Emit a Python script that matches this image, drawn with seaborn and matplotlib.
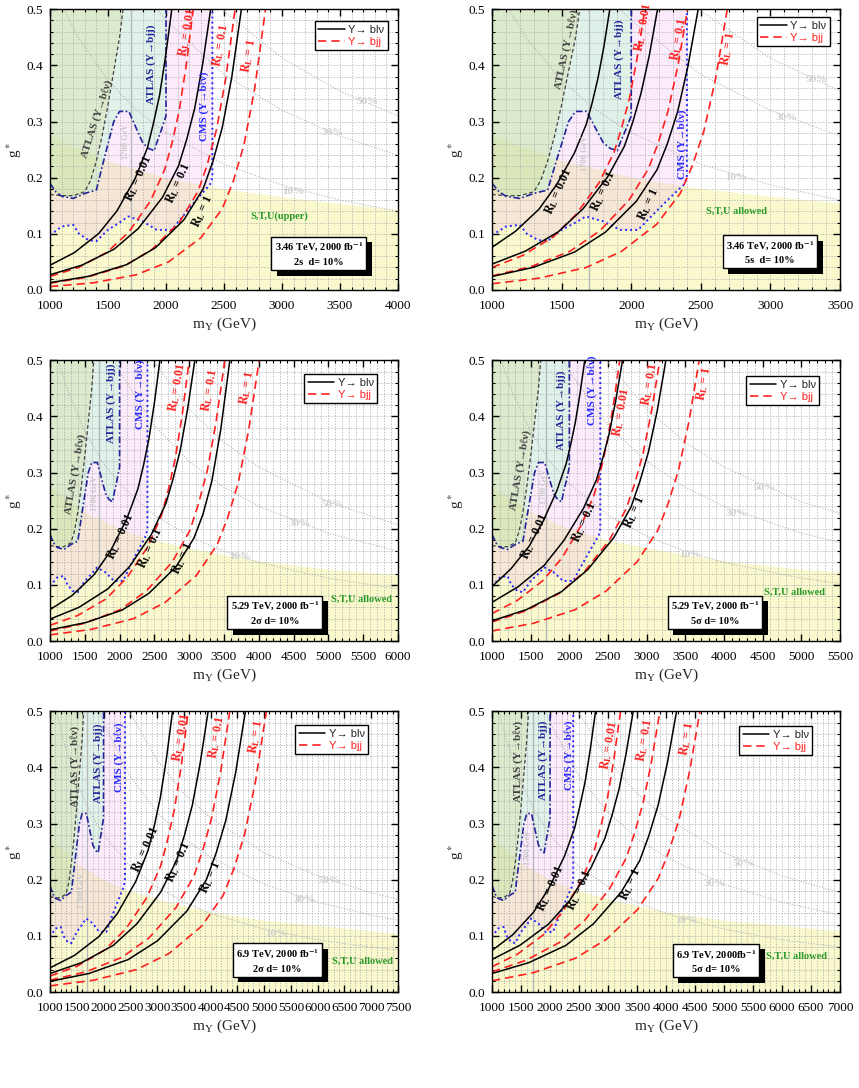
import matplotlib
matplotlib.use('Agg')
import numpy as np
import pandas as pd
import seaborn as sns
import matplotlib.pyplot as plt
from matplotlib import patheffects
from matplotlib.lines import Line2D
from matplotlib.ticker import MultipleLocator, FormatStrFormatter

# ---- curves shared by all panels (m in GeV, g*) ----
ATLAS_BLV_M = [1000, 1100, 1200, 1300, 1350, 1400, 1450, 1500, 1550, 1600, 1630]
ATLAS_BLV_G = [0.170, 0.168, 0.168, 0.175, 0.195, 0.230, 0.275, 0.330, 0.390, 0.450, 0.500]

ATLAS_BJJ_M = [1000, 1050, 1100, 1200, 1300, 1400, 1450, 1500, 1550, 1600, 1680, 1750, 1800,
               1850, 1900, 1920, 1960, 2000, 2000]
ATLAS_BJJ_G = [0.190, 0.175, 0.167, 0.163, 0.172, 0.178, 0.220, 0.260, 0.300, 0.318, 0.318,
               0.285, 0.262, 0.252, 0.248, 0.262, 0.285, 0.310, 0.500]

CMS_BLV_M = [1000, 1050, 1100, 1200, 1250, 1330, 1400, 1500, 1600, 1675, 1800, 1920, 2050,
             2120, 2200, 2290, 2380, 2400, 2400]
CMS_BLV_G = [0.098, 0.105, 0.113, 0.116, 0.100, 0.089, 0.087, 0.107, 0.120, 0.131, 0.122,
             0.107, 0.107, 0.125, 0.145, 0.167, 0.188, 0.200, 0.500]

STU_M = [1000, 1500, 2000, 2500, 3000, 3500, 4000, 4500, 5000, 5500, 6000, 6500, 7000, 7500]
STU_G = [0.275, 0.230, 0.200, 0.180, 0.166, 0.154, 0.143, 0.135, 0.128, 0.123, 0.119,
         0.114, 0.109, 0.104]

W10_M = [1120, 1250, 1500, 1750, 2000, 2500, 3000, 3500, 4000, 5000, 6000, 7000, 7500]
W10_G = [0.500, 0.448, 0.373, 0.320, 0.280, 0.224, 0.187, 0.160, 0.140, 0.112, 0.093, 0.080, 0.075]
W30_M = [1920, 2000, 2500, 3000, 3500, 4000, 5000, 6000, 7000, 7500]
W30_G = [0.500, 0.480, 0.384, 0.320, 0.274, 0.240, 0.192, 0.160, 0.137, 0.128]
W50_M = [2480, 3000, 3500, 4000, 5000, 6000, 7000, 7500]
W50_G = [0.500, 0.413, 0.354, 0.310, 0.248, 0.207, 0.177, 0.165]

RL_VALUES = ['0.01', '0.1', '1']

# ---- reach curves per panel: Y -> b l nu (black) and Y -> b j j (red), R_L = 0.01, 0.1, 1 ----
P1_BLV_M = [[1000, 1210, 1420, 1578, 1735, 1840, 1892, 1945, 1997, 2050],
            [1000, 1277, 1554, 1762, 1970, 2108, 2177, 2247, 2316, 2385],
            [1000, 1330, 1660, 1908, 2155, 2320, 2403, 2485, 2568, 2650]]
P1_BLV_G = [[0.044, 0.0665, 0.1005, 0.141, 0.199, 0.253, 0.297, 0.347, 0.417, 0.5],
            [0.027, 0.0443, 0.0728, 0.1096, 0.165, 0.221, 0.267, 0.323, 0.402, 0.5],
            [0.013, 0.0242, 0.045, 0.075, 0.125, 0.18, 0.228, 0.289, 0.380, 0.5]]
P1_BJJ_M = [[1000, 1247, 1494, 1679, 1865, 1988, 2050, 2112, 2173, 2235],
            [1000, 1319, 1638, 1878, 2117, 2277, 2357, 2436, 2516, 2596],
            [1000, 1372, 1743, 2022, 2301, 2486, 2579, 2672, 2765, 2858]]
P1_BJJ_G = [[0.024, 0.0402, 0.0674, 0.103, 0.158, 0.214, 0.260, 0.317, 0.398, 0.5],
            [0.012, 0.0226, 0.0426, 0.0719, 0.121, 0.176, 0.224, 0.286, 0.378, 0.5],
            [0.006, 0.0127, 0.027, 0.050, 0.093, 0.145, 0.193, 0.258, 0.359, 0.5]]

P2_BLV_M = [[1000, 1169, 1338, 1465, 1592, 1677, 1719, 1761, 1804, 1846],
            [1000, 1238, 1476, 1654, 1832, 1951, 2011, 2070, 2130, 2189],
            [1000, 1296, 1592, 1815, 2037, 2185, 2259, 2333, 2407, 2481]]
P2_BLV_G = [[0.076, 0.1046, 0.144, 0.188, 0.244, 0.295, 0.333, 0.377, 0.434, 0.5],
            [0.046, 0.069, 0.1035, 0.1446, 0.202, 0.256, 0.299, 0.35, 0.418, 0.5],
            [0.024, 0.0402, 0.0674, 0.103, 0.158, 0.214, 0.260, 0.317, 0.398, 0.5]]
P2_BJJ_M = [[1000, 1220, 1439, 1604, 1769, 1878, 1933, 1988, 2043, 2098],
            [1000, 1281, 1562, 1773, 1984, 2124, 2194, 2265, 2335, 2405],
            [1000, 1338, 1676, 1930, 2183, 2352, 2437, 2521, 2606, 2690]]
P2_BJJ_G = [[0.04, 0.0614, 0.0944, 0.1345, 0.191, 0.246, 0.2905, 0.342, 0.414, 0.5],
            [0.025, 0.0416, 0.0692, 0.105, 0.160, 0.216, 0.262, 0.319, 0.399, 0.5],
            [0.011, 0.021, 0.040, 0.0687, 0.117, 0.172, 0.220, 0.282, 0.376, 0.5]]

P3_BLV_M = [[1000, 1316, 1632, 1868, 2105, 2263, 2342, 2421, 2500, 2579],
            [1000, 1416, 1832, 2145, 2457, 2665, 2769, 2873, 2977, 3081],
            [1000, 1517, 2034, 2421, 2809, 3067, 3196, 3326, 3455, 3584]]
P3_BLV_G = [[0.056, 0.081, 0.118, 0.160, 0.218, 0.271, 0.312, 0.36, 0.424, 0.5],
            [0.039, 0.060, 0.093, 0.133, 0.190, 0.245, 0.289, 0.341, 0.413, 0.5],
            [0.02, 0.033, 0.055, 0.085, 0.132, 0.183, 0.225, 0.285, 0.378, 0.5]]
P3_BJJ_M = [[1000, 1400, 1800, 2100, 2400, 2600, 2700, 2800, 2900, 3000],
            [1000, 1502, 2005, 2382, 2758, 3010, 3135, 3261, 3386, 3512],
            [1000, 1601, 2202, 2653, 3104, 3404, 3554, 3705, 3855, 4005]]
P3_BJJ_G = [[0.028, 0.0457, 0.0746, 0.112, 0.167, 0.223, 0.269, 0.325, 0.403, 0.5],
            [0.018, 0.0317, 0.0557, 0.0888, 0.141, 0.197, 0.245, 0.304, 0.390, 0.5],
            [0.011, 0.021, 0.040, 0.0687, 0.117, 0.172, 0.220, 0.282, 0.376, 0.5]]

P4_BLV_M = [[1000, 1240, 1480, 1659, 1839, 1959, 2019, 2079, 2139, 2199],
            [1000, 1337, 1675, 1928, 2181, 2350, 2434, 2518, 2603, 2687],
            [1000, 1450, 1899, 2236, 2574, 2798, 2911, 3023, 3136, 3248]]
P4_BLV_G = [[0.097, 0.128, 0.169, 0.213, 0.268, 0.316, 0.351, 0.391, 0.442, 0.5],
            [0.069, 0.0967, 0.135, 0.179, 0.236, 0.287, 0.327, 0.371, 0.431, 0.5],
            [0.036, 0.0563, 0.088, 0.127, 0.184, 0.239, 0.284, 0.337, 0.410, 0.5]]
P4_BJJ_M = [[1000, 1330, 1661, 1909, 2156, 2322, 2404, 2487, 2569, 2652],
            [1000, 1434, 1868, 2194, 2519, 2736, 2845, 2953, 3062, 3170],
            [1000, 1536, 2072, 2473, 2875, 3143, 3277, 3411, 3545, 3679]]
P4_BJJ_G = [[0.049, 0.0727, 0.108, 0.149, 0.207, 0.261, 0.303, 0.353, 0.420, 0.5],
            [0.034, 0.0537, 0.0848, 0.1236, 0.180, 0.236, 0.2805, 0.334, 0.409, 0.5],
            [0.018, 0.0317, 0.0557, 0.0888, 0.141, 0.197, 0.245, 0.304, 0.390, 0.5]]

P5_BLV_M = [[1000, 1458, 1916, 2259, 2602, 2831, 2946, 3060, 3175, 3289],
            [1000, 1591, 2182, 2625, 3068, 3363, 3511, 3659, 3806, 3954],
            [1000, 1730, 2460, 3008, 3555, 3920, 4103, 4285, 4468, 4650]]
P5_BLV_G = [[0.043, 0.0653, 0.099, 0.140, 0.197, 0.252, 0.295, 0.346, 0.416, 0.5],
            [0.033, 0.0524, 0.0831, 0.1217, 0.178, 0.234, 0.279, 0.333, 0.408, 0.5],
            [0.019, 0.0331, 0.0578, 0.0913, 0.144, 0.200, 0.2475, 0.306, 0.391, 0.5]]
P5_BJJ_M = [[1000, 1516, 2032, 2420, 2807, 3065, 3194, 3323, 3452, 3581],
            [1000, 1672, 2343, 2847, 3351, 3686, 3854, 4022, 4190, 4358],
            [1000, 1808, 2617, 3223, 3829, 4234, 4436, 4638, 4840, 5042]]
P5_BJJ_G = [[0.0285, 0.0464, 0.0755, 0.113, 0.168, 0.224, 0.270, 0.325, 0.403, 0.5],
            [0.021, 0.036, 0.0617, 0.0962, 0.150, 0.206, 0.253, 0.311, 0.394, 0.5],
            [0.011, 0.021, 0.040, 0.0687, 0.117, 0.172, 0.220, 0.282, 0.376, 0.5]]

P6_BLV_M = [[1000, 1357, 1714, 1981, 2249, 2427, 2516, 2606, 2695, 2784],
            [1000, 1487, 1974, 2339, 2704, 2947, 3069, 3191, 3312, 3434],
            [1000, 1636, 2273, 2750, 3227, 3546, 3705, 3864, 4023, 4182]]
P6_BLV_G = [[0.074, 0.102, 0.142, 0.185, 0.242, 0.293, 0.332, 0.375, 0.433, 0.5],
            [0.058, 0.0837, 0.121, 0.163, 0.221, 0.274, 0.315, 0.362, 0.425, 0.5],
            [0.033, 0.0524, 0.0831, 0.1217, 0.178, 0.234, 0.279, 0.333, 0.408, 0.5]]
P6_BJJ_M = [[1000, 1443, 1886, 2218, 2551, 2772, 2883, 2994, 3104, 3215],
            [1000, 1579, 2158, 2592, 3026, 3315, 3460, 3605, 3749, 3894],
            [1000, 1717, 2434, 2972, 3510, 3868, 4047, 4227, 4406, 4585]]
P6_BJJ_G = [[0.045, 0.0678, 0.102, 0.143, 0.200, 0.255, 0.298, 0.348, 0.417, 0.5],
            [0.036, 0.0563, 0.088, 0.127, 0.184, 0.239, 0.284, 0.337, 0.410, 0.5],
            [0.02, 0.0346, 0.060, 0.094, 0.147, 0.203, 0.250, 0.308, 0.393, 0.5]]

X_MAX = [4000, 3500, 6000, 5500, 7500, 7000]
BOX_LINE1 = [r'3.46 TeV, 2000 fb$^{\mathbf{-1}}$', r'3.46 TeV, 2000 fb$^{\mathbf{-1}}$',
             r'5.29 TeV, 2000 fb$^{\mathbf{-1}}$', r'5.29 TeV, 2000 fb$^{\mathbf{-1}}$',
             r'6.9 TeV, 2000 fb$^{\mathbf{-1}}$', r'6.9 TeV, 2000fb$^{\mathbf{-1}}$']
BOX_LINE2 = ['2s  d= 10%', '5s  d= 10%', '2σ d= 10%', '5σ d= 10%', '2σ d= 10%', '5σ d= 10%']
STU_TEXT = ['S,T,U(upper)', 'S,T,U allowed', 'S,T,U allowed', 'S,T,U allowed',
            'S,T,U allowed', 'S,T,U allowed']

# ---- label placement (data coords) ----
LBL_ATLAS_BLV = [(1402, 0.304, 72), (1535, 0.429, 78), (1359, 0.298, 80),
                 (1367, 0.304, 80), (1466, 0.401, 90), (1449, 0.41, 90)]
LBL_ATLAS_BJJ = [(1876, 0.402), (1913, 0.411), (1885, 0.423), (1897, 0.411), (1902, 0.407), (1880, 0.413)]
LBL_CMS = [(2326, 0.327), (2366, 0.259), (2292, 0.44), (2299, 0.447), (2294, 0.419), (2329, 0.422)]
LBL_1700 = [(1655, 0.265), (1666, 0.244), (1646, 0.263), (1669, 0.275), (1591, 0.181), (1621, 0.258)]
LBL_BLV = [[(1761, 0.199), (2105, 0.19), (2315, 0.14)],
           [(1475, 0.176), (1798, 0.176), (2122, 0.152)],
           [(2014, 0.186), (2435, 0.165), (2904, 0.147)],
           [(1552, 0.186), (2186, 0.212), (2834, 0.23)],
           [(2785, 0.254), (3394, 0.232), (3985, 0.205)],
           [(2007, 0.184), (2502, 0.181), (3376, 0.193)]]
LBL_BJJ = [[(2177, 0.458), (2470, 0.435), (2717, 0.417)],
           [(2086, 0.467), (2337, 0.446), (2692, 0.429)],
           [(2818, 0.452), (3297, 0.447), (3823, 0.452)],
           [(2674, 0.408), (3040, 0.458), (3731, 0.458)],
           [(3456, 0.454), (4109, 0.454), (4843, 0.454)],
           [(3014, 0.439), (3635, 0.448), (4354, 0.451)]]
LBL_W = [[(3740, 0.335), (3440, 0.28), (3100, 0.175)],
         [(3332, 0.375), (3116, 0.307), (2752, 0.2)],
         [(5067, 0.244), (4589, 0.209), (3727, 0.15)],
         [(4529, 0.273), (4162, 0.228), (3558, 0.154)],
         [(6224, 0.198), (5757, 0.164), (5229, 0.104)],
         [(5333, 0.229), (4844, 0.194), (4354, 0.128)]]
LBL_STU = [(2981, 0.132), (2757, 0.14), (5474, 0.074), (4917, 0.087), (6846, 0.055), (6242, 0.064)]
LBL_BOX = [(3317, 0.064), (2997, 0.067), (4230, 0.05), (3882, 0.05), (5248, 0.056), (4861, 0.055)]
LEG_ANCHOR = [(0.97, 0.957), (0.971, 0.971), (0.94, 0.95), (0.94, 0.943), (0.914, 0.95), (0.92, 0.947)]

BLV = [(P1_BLV_M, P1_BLV_G), (P2_BLV_M, P2_BLV_G), (P3_BLV_M, P3_BLV_G),
       (P4_BLV_M, P4_BLV_G), (P5_BLV_M, P5_BLV_G), (P6_BLV_M, P6_BLV_G)]
BJJ = [(P1_BJJ_M, P1_BJJ_G), (P2_BJJ_M, P2_BJJ_G), (P3_BJJ_M, P3_BJJ_G),
       (P4_BJJ_M, P4_BJJ_G), (P5_BJJ_M, P5_BJJ_G), (P6_BJJ_M, P6_BJJ_G)]

SERIF = ['Liberation Serif', 'DejaVu Serif']

sns.set_theme(style='ticks')
plt.rcParams['font.family'] = SERIF
plt.rcParams['mathtext.fontset'] = 'stix'
plt.rcParams['axes.linewidth'] = 1.0

fig = plt.figure(figsize=(8.59, 10.88), dpi=100)
lefts = [0.0582, 0.5728]
bottoms = [0.7335, 0.4108, 0.0882]
W, H = 0.4051, 0.2580


def line(ax, m, g, **kw):
    df = pd.DataFrame({'m': m, 'g': g})
    sns.lineplot(data=df, x='m', y='g', ax=ax, sort=False, estimator=None, legend=False, **kw)


def polygon(ax, m, g, color, alpha):
    ax.fill(list(m) + [m[-1], m[0]], list(g) + [0.5, 0.5], color=color, alpha=alpha,
            lw=0, zorder=0.3)


def info_box(ax, x, y, text):
    t = ax.text(x, y, text, ha='center', va='center', fontsize=7.5, fontweight='bold',
                multialignment='center', linespacing=1.5, color='black', zorder=7,
                bbox=dict(boxstyle='square,pad=0.3', fc='white', ec='black', lw=1))
    t.get_bbox_patch().set_path_effects([
        patheffects.SimplePatchShadow(offset=(4, -4), shadow_rgbFace='black', alpha=1.0),
        patheffects.Normal()])


for i in range(6):
    ax = fig.add_axes([lefts[i % 2], bottoms[i // 2], W, H])
    xmax = X_MAX[i]

    # shaded regions
    ax.fill_between(STU_M, 0, STU_G, color='#eeee70', alpha=0.35, lw=0, zorder=0.3)
    polygon(ax, CMS_BLV_M, CMS_BLV_G, '#f0b0f0', 0.25)
    polygon(ax, ATLAS_BJJ_M, ATLAS_BJJ_G, '#a0ffc2', 0.30)
    polygon(ax, ATLAS_BLV_M, ATLAS_BLV_G, '#d4dc98', 0.35)

    # width contours
    for wm, wg in [(W10_M, W10_G), (W30_M, W30_G), (W50_M, W50_G)]:
        line(ax, wm, wg, color='#b8b8b8', lw=0.8, ls=(0, (1, 1.5)))
    ax.axvline(1700, color='#b8b8b8', lw=1.0, zorder=1.8)

    # exclusion limits
    line(ax, ATLAS_BLV_M, ATLAS_BLV_G, color='#404040', lw=0.9, ls=(0, (3, 2)))
    line(ax, ATLAS_BJJ_M, ATLAS_BJJ_G, color='#24249a', lw=1.2, ls=(0, (4, 1.5, 1, 1.5)))
    line(ax, CMS_BLV_M, CMS_BLV_G, color='#2828ff', lw=1.4, ls=(0, (1, 1.6)))

    # reach curves
    bm, bg = BLV[i]
    rm, rg = BJJ[i]
    for k in range(3):
        line(ax, bm[k], bg[k], color='black', lw=1.1)
        line(ax, rm[k], rg[k], color='#ff2020', lw=1.2, ls=(0, (5, 3)))

    # labels
    tkw = dict(ha='center', va='center', fontweight='bold', rotation_mode='anchor', zorder=5)
    x, y, r = LBL_ATLAS_BLV[i]
    ax.text(x, y, 'ATLAS (Y→bℓν)', color='#404040', fontsize=8, rotation=r, **tkw)
    x, y = LBL_ATLAS_BJJ[i]
    ax.text(x, y, 'ATLAS (Y→bjj)', color='#24249a', fontsize=8, rotation=90, **tkw)
    x, y = LBL_CMS[i]
    ax.text(x, y, 'CMS (Y→bℓν)', color='#2828ff', fontsize=8, rotation=90, **tkw)
    x, y = LBL_1700[i]
    ax.text(x, y, '1700 GeV', color='#c8c8c8', fontsize=6, rotation=90, **tkw)
    for k in range(3):
        x, y = LBL_BLV[i][k]
        ax.text(x, y, r'$\mathbf{R_L}$ = ' + RL_VALUES[k], color='black', fontsize=8.5,
                rotation=66, **tkw)
        x, y = LBL_BJJ[i][k]
        ax.text(x, y, r'$\mathbf{R_L}$ = ' + RL_VALUES[k], color='#ff2020', fontsize=8.5,
                rotation=80, **tkw)
    for (x, y), s in zip(LBL_W[i], ['50%', '30%', '10%']):
        ax.text(x, y, s, color='#d0d0d0', fontsize=8, **tkw)
    x, y = LBL_STU[i]
    ax.text(x, y, STU_TEXT[i], color='#2a9a2a', fontsize=7.5, **tkw)
    x, y = LBL_BOX[i]
    info_box(ax, x, y, BOX_LINE1[i] + '\n' + BOX_LINE2[i])

    # legend
    handles = [Line2D([], [], color='black', lw=1.1),
               Line2D([], [], color='#ff2020', lw=1.2, ls=(0, (5, 3)))]
    leg = ax.legend(handles, ['Y→ blν', 'Y→ bjj'], loc='upper right',
                    bbox_to_anchor=LEG_ANCHOR[i], fancybox=False, framealpha=1,
                    edgecolor='black', handlelength=2.4, borderpad=0.3, labelspacing=0.2,
                    handletextpad=0.3, borderaxespad=0,
                    prop={'family': ['Liberation Sans', 'DejaVu Sans'], 'size': 8})
    leg.get_frame().set_linewidth(1.0)
    leg.get_texts()[1].set_color('#ff2020')
    leg.set_zorder(8)

    # axes
    ax.set_xlim(1000, xmax)
    ax.set_ylim(0, 0.5)
    ax.xaxis.set_major_locator(MultipleLocator(500))
    ax.xaxis.set_minor_locator(MultipleLocator(100))
    ax.yaxis.set_major_locator(MultipleLocator(0.1))
    ax.yaxis.set_minor_locator(MultipleLocator(0.02))
    ax.yaxis.set_major_formatter(FormatStrFormatter('%.1f'))
    ax.set_axisbelow('line')
    ax.grid(which='both', color='#a8a8a8', lw=0.5, ls=(0, (2, 2)))
    ax.tick_params(which='both', direction='in', top=True, right=True, labelsize=9.5,
                   colors='black')
    ax.tick_params(axis='x', which='major', pad=7)
    ax.tick_params(axis='y', which='major', pad=5)
    ax.tick_params(which='major', length=5, width=1)
    ax.tick_params(which='minor', length=2.5, width=0.8)
    for sp in ax.spines.values():
        sp.set_color('black')
    ax.set_xlabel(r'm$_\mathrm{Y}$ (GeV)', fontsize=11, labelpad=3)
    ax.set_ylabel(r'g$^*$', fontsize=11, labelpad=2)

fig.savefig('out.png', dpi=100)
